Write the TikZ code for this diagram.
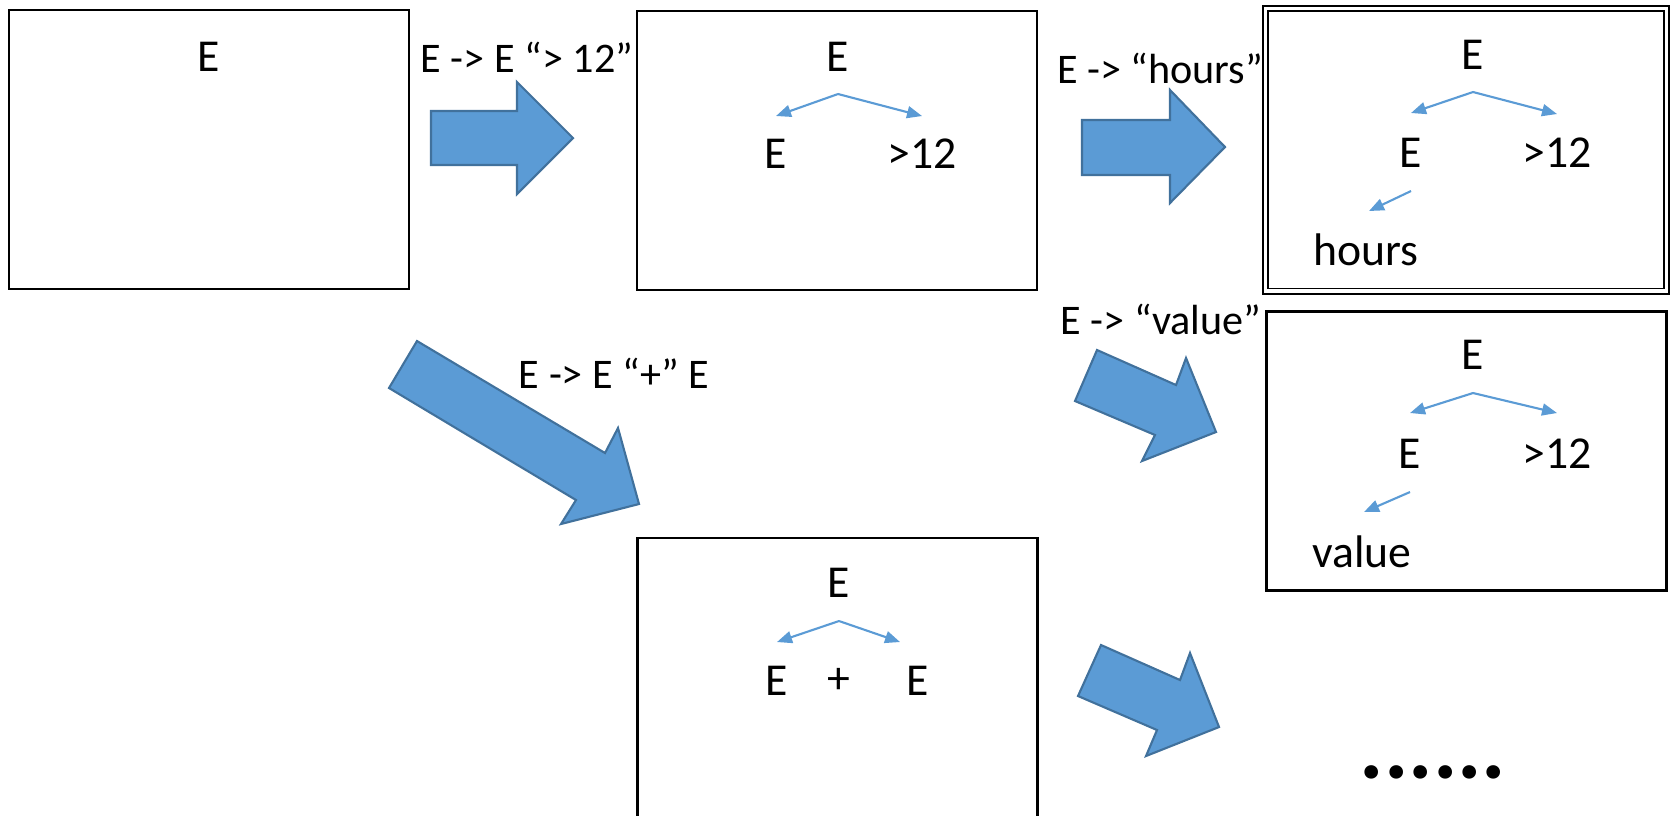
\documentclass[tikz,border=0pt]{standalone}
\usepackage{fontspec}
\setmainfont{Carlito}
\usetikzlibrary{arrows.meta,calc}
\definecolor{officeblue}{HTML}{5B9BD5}
\definecolor{officeedge}{HTML}{41719C}
\tikzset{
  panel/.style={
    draw=black, line width=0.6pt, inner sep=0pt,
    minimum width=40mm, minimum height=27.9mm
  },
  sym/.style={inner sep=0pt, font=\fontsize{13}{15}\selectfont},
  rulelabel/.style={inner sep=0pt, font=\fontsize{12}{14}\selectfont},
  branch/.style={
    draw=officeblue, line width=0.6pt,
    -{Triangle[length=1.5mm,width=1.2mm]}
  },
  bigarrow/.style={fill=officeblue, draw=officeedge, line width=0.6pt, line join=miter}
}

\begin{document}
\begin{tikzpicture}[x=0.1mm, y=-0.1mm]
  \useasboundingbox (0,0) rectangle (1671,815);
  \clip (0,0) rectangle (1671,815);

  % panels
  \node[panel] (box1) at (209,149.5) {};
  \node[panel] (box2) at (837,150.5) {};
  \node[panel, double=white, double distance=1pt, line width=0.5pt,
        minimum width=40.1mm, minimum height=28.25mm] (box3) at (1466,149.75) {};
  \node[panel] (box4) at (1466.5,451) {};
  \node[panel, minimum height=30mm] (box5) at (837.5,688) {};

  % first panel
  \node[sym] (b1top) at (209,57) {E};

  % second panel
  \node[sym] (b2top) at (838,57) {E};
  \node[sym] (b2l) at (776,154) {E};
  \node[sym] (b2r) at (922,154) {>12};
  \coordinate (b2fork) at ([yshift=-3.7mm]b2top.center);
  \draw[branch] (b2fork) -- ([yshift=3.8mm]b2l.center);
  \draw[branch] (b2fork) -- ([yshift=3.8mm]b2r.center);

  % third panel
  \node[sym] (b3top) at (1473,55) {E};
  \node[sym] (b3l) at (1411,153) {E};
  \node[sym] (b3r) at (1557,153) {>12};
  \node[sym] (b3leaf) at (1366,250) {hours};
  \coordinate (b3fork) at ([yshift=-3.7mm]b3top.center);
  \draw[branch] (b3fork) -- ([yshift=4mm]b3l.center);
  \draw[branch] (b3fork) -- ([yshift=3.9mm]b3r.center);
  \draw[branch] ([yshift=-3.8mm]b3l.center) -- ([shift={(0.3mm,3.9mm)}]b3leaf.center);

  % fourth panel
  \node[sym] (b4top) at (1473,355) {E};
  \node[sym] (b4l) at (1410,454) {E};
  \node[sym] (b4r) at (1557,454) {>12};
  \node[sym] (b4leaf) at (1362,552) {value};
  \coordinate (b4fork) at ([yshift=-3.8mm]b4top.center);
  \draw[branch] (b4fork) -- ([yshift=4.1mm]b4l.center);
  \draw[branch] (b4fork) -- ([yshift=4.1mm]b4r.center);
  \draw[branch] ([yshift=-3.8mm]b4l.center) -- ([shift={(0.2mm,4mm)}]b4leaf.center);

  % fifth panel
  \node[sym] (b5top) at (839,583) {E};
  \node[sym] (b5l) at (777,681) {E};
  \node[sym] (b5op) at (839,681) {+};
  \node[sym] (b5r) at (918,681) {E};
  \coordinate (b5fork) at ([yshift=-3.8mm]b5top.center);
  \draw[branch] (b5fork) -- ([yshift=3.9mm]b5l.center);
  \draw[branch] (b5fork) -- ([shift={(-1.8mm,3.9mm)}]b5r.center);

  % rule labels
  \node[rulelabel] (l12) at (527,57) {E -> E “> 12”};
  \node[rulelabel] (lhours) at (1160,68) {E -> “hours”};
  \node[rulelabel] (lvalue) at (1161,319) {E -> “value”};
  \node[rulelabel] (lplus) at (614,373) {E -> E “+” E};

  % block arrows
  \draw[bigarrow] (431,111) -- (517,111) -- (517,82) -- (573,138)
    -- (517,194) -- (517,165) -- (431,165) -- cycle;
  \draw[bigarrow] (1082,120) -- (1170,120) -- (1170,90) -- (1225,147)
    -- (1170,203) -- (1170,175) -- (1082,175) -- cycle;
  \draw[bigarrow] (417,341) -- (605,453) -- (618,428) -- (639,504)
    -- (561,524) -- (576,500) -- (389,388) -- cycle;
  \draw[bigarrow] (1097,350) -- (1176,385) -- (1186,358) -- (1216,432)
    -- (1142,461) -- (1155,435) -- (1075,401) -- cycle;
  \draw[bigarrow] (1101,645) -- (1180,680) -- (1190,653) -- (1219,727)
    -- (1146,756) -- (1157,730) -- (1078,696) -- cycle;

  \node[inner sep=0pt, font=\fontsize{26}{30}\selectfont\bfseries] (more) at (1433,772) {......};
\end{tikzpicture}
\end{document}
